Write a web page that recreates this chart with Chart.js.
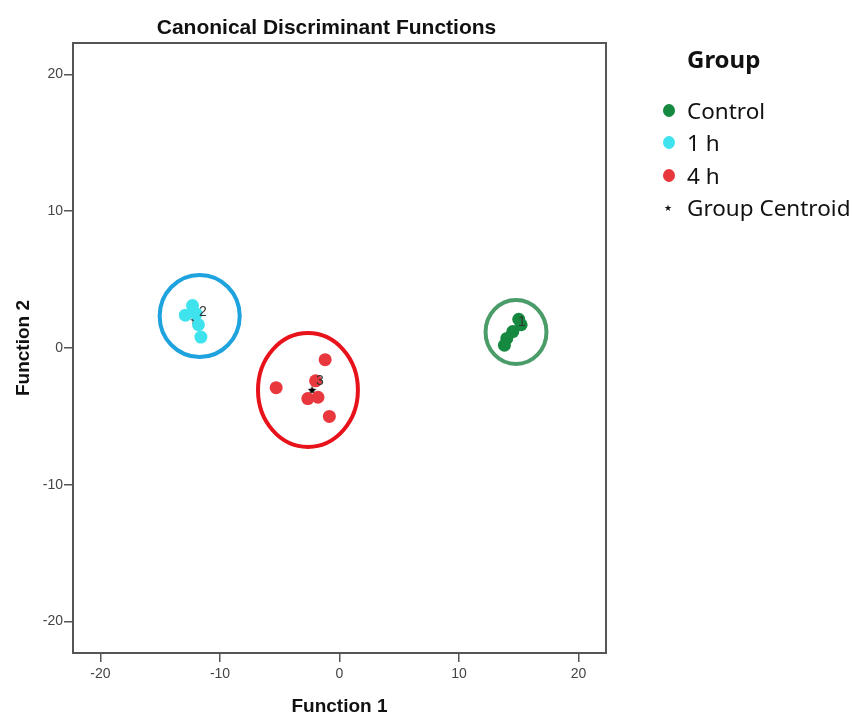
<!DOCTYPE html>
<html>
<head>
<meta charset="utf-8">
<script src="https://cdn.jsdelivr.net/npm/chart.js@4.4.1/dist/chart.umd.min.js"></script>
<style>
  html, body { margin: 0; padding: 0; background: #fff; }
  #wrap { position: relative; width: 857px; height: 718px; }
  #legend { position: absolute; left: 660px; top: 44px; font-family: "Noto Sans", sans-serif; color: #111; }
  #legend .ttl { position: absolute; left: 27px; top: -2px; font-weight: bold; font-size: 24px; white-space: nowrap; }
  #legend .row { position: absolute; left: 0; white-space: nowrap; font-size: 22.5px; line-height: 26px; height: 26px; }
  #legend .dot { position: absolute; left: 3px; top: 6px; width: 12px; height: 13px; border-radius: 50%; }
  #legend .star { position: absolute; left: 4px; top: 0; font-family: "DejaVu Sans"; font-size: 9px; }
  #legend .lbl { position: absolute; left: 27px; top: 0; }
</style>
</head>
<body>
<div id="wrap">
  <canvas id="chart" width="857" height="718"></canvas>
  <div id="legend"></div>
</div>
<script>
/* ---------- Dados ---------- */
const CONTROL_X = [15.0, 15.2, 14.5, 14.0, 13.8];
const CONTROL_Y = [2.1, 1.7, 1.2, 0.7, 0.2];
const H1_X = [-12.9, -12.3, -12.0, -11.8, -11.6];
const H1_Y = [2.4, 3.1, 2.5, 1.7, 0.8];
const H4_X = [-5.3, -1.2, -2.0, -2.65, -1.8, -0.85];
const H4_Y = [-2.9, -0.85, -2.4, -3.7, -3.6, -5.0];

const CENTROID_X = [14.6, -12.1, -2.3];
const CENTROID_Y = [1.2, 2.0, -3.1];
const CENTROID_LBL = ["1", "2", "3"];

// elipses (em unidades dos eixos)
const ELLIPSE_X = [14.77, -11.7, -2.64];
const ELLIPSE_Y = [1.17, 2.34, -3.07];
const ELLIPSE_RX = [2.55, 3.35, 4.18];
const ELLIPSE_RY = [2.34, 3.0, 4.16];

const X_TICKS = [-20, -10, 0, 10, 20];
const Y_TICKS = [-20, -10, 0, 10, 20];
const AXIS_MIN = -22.3;
const AXIS_MAX = 22.3;

const GROUPS = ["Control", "1 h", "4 h"];

const COR = {
  control: "#15893f",
  h1: "#3fe3ee",
  h4: "#e9373e",
  ellControl: "#4a9c69",
  ellH1: "#1ea3df",
  ellH4: "#e8121b",
  axis: "#555",
  tick: "#444",
};

const pts = (xs, ys) => xs.map((x, i) => ({ x, y: ys[i] }));

/* ---------- Estrela do centróide ---------- */
function starCanvas(size) {
  const c = document.createElement("canvas");
  c.width = size; c.height = size;
  const g = c.getContext("2d");
  const cx = size / 2, cy = size / 2, ro = size / 2, ri = ro * 0.45;
  g.beginPath();
  for (let i = 0; i < 10; i++) {
    const r = i % 2 ? ri : ro;
    const a = -Math.PI / 2 + (i * Math.PI) / 5;
    g.lineTo(cx + r * Math.cos(a), cy + r * Math.sin(a));
  }
  g.closePath();
  g.fillStyle = "#000";
  g.fill();
  return c;
}
const STAR = starCanvas(9);

/* ---------- Plugins ---------- */
const ellipsesPlugin = {
  id: "ellipses",
  afterLayout(chart) {
    // título um pouco à esquerda, como no original
    if (chart.titleBlock) {
      chart.titleBlock.left -= 13;
      chart.titleBlock.right -= 13;
    }
  },
  beforeDatasetsDraw(chart) {
    const { ctx, scales: { x, y } } = chart;
    const cores = [COR.ellControl, COR.ellH1, COR.ellH4];
    ctx.save();
    ELLIPSE_X.forEach((cx, i) => {
      const px = x.getPixelForValue(cx);
      const py = y.getPixelForValue(ELLIPSE_Y[i]);
      const rx = Math.abs(x.getPixelForValue(cx + ELLIPSE_RX[i]) - px);
      const ry = Math.abs(y.getPixelForValue(ELLIPSE_Y[i] + ELLIPSE_RY[i]) - py);
      ctx.beginPath();
      ctx.ellipse(px, py, rx, ry, 0, 0, Math.PI * 2);
      ctx.lineWidth = 4;
      ctx.strokeStyle = cores[i];
      ctx.stroke();
    });
    ctx.restore();
  },
  afterDatasetsDraw(chart) {
    const { ctx, scales: { x, y } } = chart;
    ctx.save();
    ctx.font = "14px 'Liberation Sans', Arial, sans-serif";
    ctx.fillStyle = "#333";
    ctx.textBaseline = "middle";
    CENTROID_X.forEach((cx, i) => {
      ctx.fillText(CENTROID_LBL[i], x.getPixelForValue(cx) + 4, y.getPixelForValue(CENTROID_Y[i]) - 9);
    });
    ctx.restore();
  },
};

const framePlugin = {
  id: "frame",
  afterDraw(chart) {
    const { ctx, chartArea: a } = chart;
    ctx.save();
    ctx.strokeStyle = COR.axis;
    ctx.lineWidth = 2;
    ctx.strokeRect(a.left, a.top, a.right - a.left, a.bottom - a.top);
    ctx.restore();
  },
};

/* ---------- Gráfico ---------- */
const tickFont = { family: "'Liberation Sans', Arial, sans-serif", size: 14 };
const gridCfg = { drawOnChartArea: false, drawTicks: true, tickLength: 9, color: COR.axis, lineWidth: 1.5 };

new Chart(document.getElementById("chart"), {
  type: "scatter",
  data: {
    datasets: [
      { label: "Control", data: pts(CONTROL_X, CONTROL_Y), backgroundColor: COR.control, borderColor: COR.control, pointRadius: 6.5, borderWidth: 0 },
      { label: "1 h", data: pts(H1_X, H1_Y), backgroundColor: COR.h1, borderColor: COR.h1, pointRadius: 6.5, borderWidth: 0 },
      { label: "4 h", data: pts(H4_X, H4_Y), backgroundColor: COR.h4, borderColor: COR.h4, pointRadius: 6.5, borderWidth: 0 },
      { label: "Group Centroid", data: pts(CENTROID_X, CENTROID_Y), pointStyle: STAR, pointRadius: 5 },
    ],
  },
  options: {
    responsive: false,
    devicePixelRatio: 1,
    animation: false,
    layout: { padding: { left: 0, right: 251, top: 0, bottom: 0 } },
    plugins: {
      legend: { display: false },
      tooltip: { enabled: false },
      title: {
        display: true,
        text: "Canonical Discriminant Functions",
        color: "#111",
        font: { family: "'Liberation Sans', Arial, sans-serif", size: 21, weight: "bold" },
        padding: { top: 15.5, bottom: 2.3 },
        align: "center",
        fullSize: false,
      },
    },
    scales: {
      x: {
        type: "linear",
        min: AXIS_MIN,
        max: AXIS_MAX,
        afterBuildTicks: (s) => { s.ticks = X_TICKS.map((v) => ({ value: v })); },
        afterFit: (s) => { s.height = 65; },
        grid: gridCfg,
        border: { display: true, color: COR.axis, width: 2 },
        ticks: { color: COR.tick, font: tickFont, padding: 4, callback: (v) => v },
        title: {
          display: true,
          text: "Function 1",
          color: "#111",
          font: { family: "'Liberation Sans', Arial, sans-serif", size: 19, weight: "bold" },
          padding: { top: 0, bottom: 0 },
        },
      },
      y: {
        type: "linear",
        min: AXIS_MIN,
        max: AXIS_MAX,
        afterBuildTicks: (s) => { s.ticks = Y_TICKS.map((v) => ({ value: v })); },
        afterFit: (s) => { s.width = 73; },
        grid: gridCfg,
        border: { display: true, color: COR.axis, width: 2 },
        ticks: { color: COR.tick, font: tickFont, padding: 1, callback: (v) => v },
        title: {
          display: true,
          text: "Function 2",
          color: "#111",
          font: { family: "'Liberation Sans', Arial, sans-serif", size: 19, weight: "bold" },
          padding: { top: 12, bottom: 0 },
        },
      },
    },
  },
  plugins: [ellipsesPlugin, framePlugin],
});

/* ---------- Legenda ---------- */
function renderLegend() {
  const el = document.getElementById("legend");
  const cores = [COR.control, COR.h1, COR.h4];
  const rowsTop = [54, 86, 119];
  let html = `<div class="ttl">Group</div>`;
  GROUPS.forEach((g, i) => {
    html += `<div class="row" style="top:${rowsTop[i]}px"><span class="dot" style="background:${cores[i]}"></span><span class="lbl">${g}</span></div>`;
  });
  html += `<div class="row" style="top:151px"><span class="star">★</span><span class="lbl">Group Centroid</span></div>`;
  el.innerHTML = html;
}
renderLegend();
</script>
</body>
</html>
